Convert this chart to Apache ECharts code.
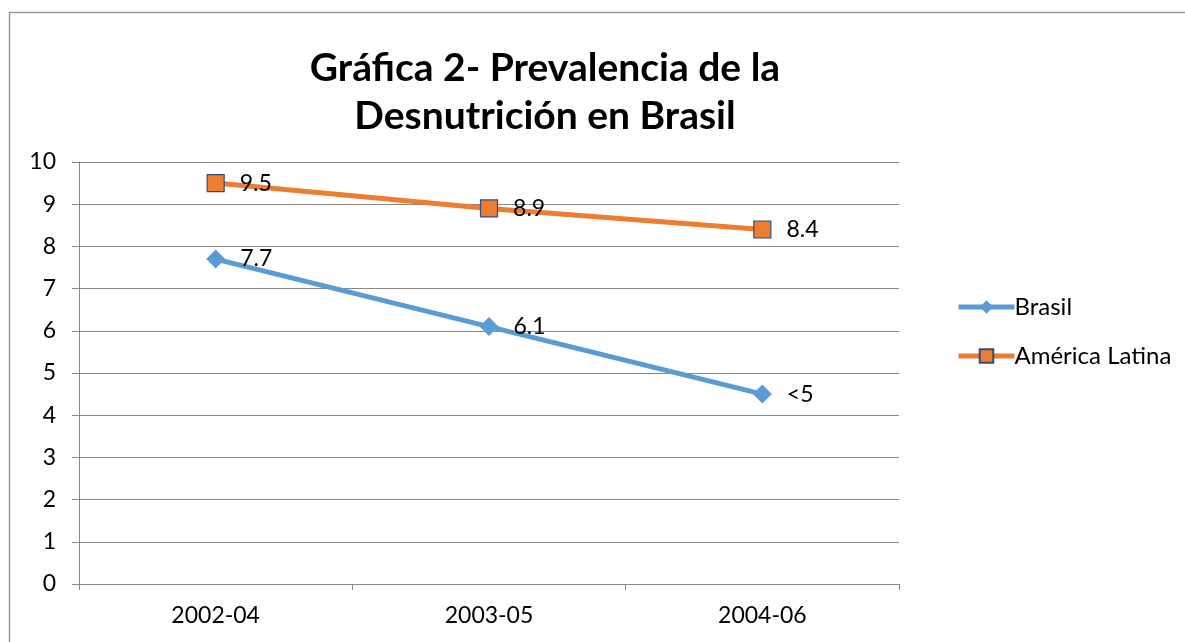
<!DOCTYPE html>
<html><head><meta charset="utf-8">
<script src="https://cdn.jsdelivr.net/npm/echarts@6/dist/echarts.min.js"></script>
<style>html,body{margin:0;padding:0;background:#fff}#c{width:1185px;height:642px}</style>
</head><body><div id="c"></div>
<script>
const categories = ['2002-04', '2003-05', '2004-06'];
const brasil = [7.7, 6.1, 4.5];
const brasilLabels = ['7.7', '6.1', '<5'];
const latam = [9.5, 8.9, 8.4];
const latamLabels = ['9.5', '8.9', '8.4'];
const yTicks = [0, 1, 2, 3, 4, 5, 6, 7, 8, 9, 10];

const FONT = 'Lato, "Open Sans", sans-serif';
const chart = echarts.init(document.getElementById('c'), null, {renderer: 'canvas'});
chart.setOption({
  animation: false,
  backgroundColor: '#fff',
  textStyle: {fontFamily: FONT},
  graphic: [{
    type: 'rect', left: 7, top: 10, shape: {width: 1250, height: 700},
    style: {fill: 'none', stroke: '#9a9a9a', lineWidth: 1.5}, silent: true
  }],
  title: {
    text: 'Gráfica 2- Prevalencia de la\nDesnutrición en Brasil',
    left: 540, textAlign: 'center', top: 39,
    textStyle: {fontFamily: FONT, fontWeight: 'bold', fontSize: 39, lineHeight: 48, color: '#000'}
  },
  legend: {
    orient: 'vertical', left: 951, top: 290, itemGap: 25,
    itemWidth: 56, itemHeight: 17,
    lineStyle: {width: 5},
    textStyle: {fontFamily: FONT, fontSize: 24, color: '#000', padding: [0, 0, 0, -5]},
    data: ['Brasil', 'América Latina']
  },
  grid: {left: 79, top: 162, width: 820, height: 422},
  xAxis: {
    type: 'category', data: categories, boundaryGap: true,
    axisLine: {lineStyle: {color: '#888', width: 1}},
    axisTick: {show: true, length: 6, lineStyle: {color: '#888'}},
    axisLabel: {fontFamily: FONT, fontSize: 23, color: '#000', margin: 20}
  },
  yAxis: {
    type: 'value', min: 0, max: 10, interval: 1,
    axisLine: {show: true, lineStyle: {color: '#888'}},
    axisTick: {show: true, length: 7, lineStyle: {color: '#888'}},
    splitLine: {lineStyle: {color: '#888', width: 1}},
    axisLabel: {fontFamily: FONT, fontSize: 23, color: '#000', margin: 23,
      formatter: v => yTicks.includes(v) ? String(v) : ''}
  },
  series: [
    {
      name: 'Brasil', type: 'line', data: brasil,
      symbol: 'diamond', symbolSize: 19,
      lineStyle: {width: 5, color: '#5B9BD5'},
      itemStyle: {color: '#5B9BD5'},
      label: {show: true, position: 'right', distance: 15, fontFamily: FONT, fontSize: 23, color: '#000',
        formatter: p => brasilLabels[p.dataIndex]}
    },
    {
      name: 'América Latina', type: 'line', data: latam,
      symbol: 'rect', symbolSize: 17,
      lineStyle: {width: 5, color: '#ED7D31'},
      itemStyle: {color: '#ED7D31', borderColor: '#2F4F7F', borderWidth: 1.2},
      label: {show: true, position: 'right', distance: 15, fontFamily: FONT, fontSize: 23, color: '#000',
        formatter: p => latamLabels[p.dataIndex]}
    }
  ]
});
</script></body></html>
